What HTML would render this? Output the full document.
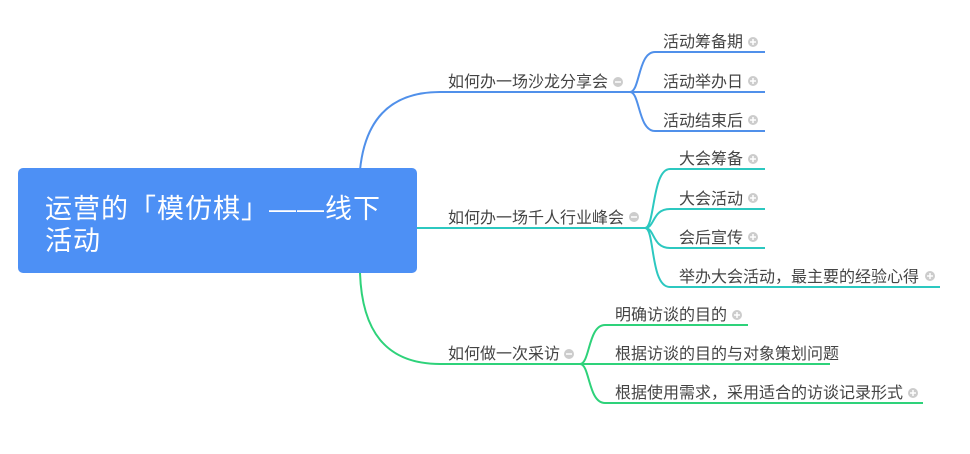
<!DOCTYPE html>
<html><head><meta charset="utf-8"><style>
body{margin:0;background:#fff;width:970px;height:449px;overflow:hidden}
text{font-family:"Liberation Sans","Noto Sans CJK SC",sans-serif;font-size:16px;fill:#444}
</style></head><body>
<svg width="970" height="449" xmlns="http://www.w3.org/2000/svg">
<defs>
<g id="ic"><circle r="5" fill="#ccc"/><path d="M-3 0H3M0 -3V3" stroke="#fff" stroke-width="1.5"/></g>
<g id="im"><circle r="5" fill="#ccc"/><path d="M-3 0H3" stroke="#fff" stroke-width="1.5"/></g>
</defs>
<g fill="none" stroke-width="2">
<path d="M360 170 C365 120 390 92 440 92 H630" stroke="#5090ea"/>
<path d="M630 92 C640 92 638 52 655 52 H765 M630 92 H765 M630 92 C640 92 638 131 655 131 H765" stroke="#5090ea"/>
<path d="M417 228 H645" stroke="#2cc8c0"/>
<path d="M645 228 C655 228 652 169 670 169 H765 M645 228 C655 228 652 209 670 209 H765 M645 228 C655 228 652 248 670 248 H765 M645 228 C655 228 650 287 670 287 H940" stroke="#2cc8c0"/>
<path d="M360 273 C362 330 385 364 440 364 H580" stroke="#2ed27a"/>
<path d="M580 364 C590 364 588 325 605 325 H748 M580 364 H830 M580 364 C590 364 588 403 605 403 H923" stroke="#2ed27a"/>
</g>
<rect x="18" y="168" width="399" height="105" rx="5" fill="#4d90f5"/>
<text x="45" y="218" style="font-size:27px;fill:#fff;letter-spacing:1px">运营的「模仿棋」——线下</text>
<text x="45" y="250" style="font-size:27px;fill:#fff;letter-spacing:1px">活动</text>
<text x="448" y="87">如何办一场沙龙分享会</text><use href="#im" x="618" y="82"/>
<text x="448" y="223">如何办一场千人行业峰会</text><use href="#im" x="634" y="217"/>
<text x="448" y="359">如何做一次采访</text><use href="#im" x="569" y="354"/>
<text x="743" y="47" text-anchor="end">活动筹备期</text><use href="#ic" x="753" y="42"/>
<text x="743" y="87" text-anchor="end">活动举办日</text><use href="#ic" x="753" y="81"/>
<text x="743" y="126" text-anchor="end">活动结束后</text><use href="#ic" x="753" y="120"/>
<text x="743" y="164" text-anchor="end">大会筹备</text><use href="#ic" x="753" y="159"/>
<text x="743" y="204" text-anchor="end">大会活动</text><use href="#ic" x="753" y="198"/>
<text x="743" y="243" text-anchor="end">会后宣传</text><use href="#ic" x="753" y="237"/>
<text x="679" y="282">举办大会活动，最主要的经验心得</text><use href="#ic" x="930" y="276"/>
<text x="615" y="320">明确访谈的目的</text><use href="#ic" x="737" y="315"/>
<text x="615" y="359">根据访谈的目的与对象策划问题</text>
<text x="615" y="398">根据使用需求，采用适合的访谈记录形式</text><use href="#ic" x="913" y="393"/>
</svg>
</body></html>
